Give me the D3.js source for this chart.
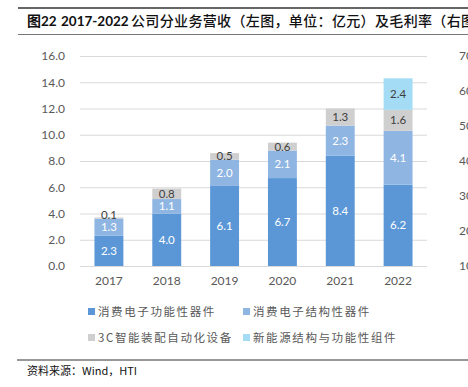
<!DOCTYPE html>
<html lang="zh">
<head>
<meta charset="UTF-8">
<title>2017-2022 公司分业务营收</title>
<script src="https://d3js.org/d3.v7.min.js"></script>
<style>
  body { margin: 0; background: #fff; }
  svg { display: block; }
  .tick text { font-family: Lato, "Noto Sans", sans-serif; }
</style>
</head>
<body>
<svg id="chart" width="468" height="387"></svg>
<script>
  const years = ["2017", "2018", "2019", "2020", "2021", "2022"];
  const seriesNames = ["消费电子功能性器件", "消费电子结构性器件", "3C智能装配自动化设备", "新能源结构与功能性组件"];
  const functional = [2.3, 4.0, 6.1, 6.7, 8.4, 6.2];
  const structural = [1.3, 1.1, 2.0, 2.1, 2.3, 4.1];
  const automation = [0.1, 0.8, 0.5, 0.6, 1.3, 1.6];
  const newEnergy = [0, 0, 0, 0, 0, 2.4];
  const leftTicks = [0, 2, 4, 6, 8, 10, 12, 14, 16];
  const rightTicks = [10, 20, 30, 40, 50, 60, 70];

  const colors = ["#5b97d6", "#8fb5e2", "#cfcfcf", "#a3dcf4"];
  const labelColors = ["#fff", "#fff", "#404040", "#404040"];
  const cjk = "'Noto Sans CJK SC', 'Noto Sans', sans-serif";

  const svg = d3.select("#chart");

  // header rules + title
  svg.append("line").attr("x1", 18).attr("x2", 468).attr("y1", 8).attr("y2", 8)
    .attr("stroke", "#333").attr("stroke-width", 1.5);
  svg.append("line").attr("x1", 18).attr("x2", 468).attr("y1", 34.5).attr("y2", 34.5)
    .attr("stroke", "#777").attr("stroke-width", 1);
  const title = svg.append("text").attr("x", 27).attr("y", 26)
    .attr("font-size", 14).attr("fill", "#111").attr("font-family", cjk);
  title.append("tspan").attr("font-weight", 700).text("图");
  title.append("tspan").attr("font-weight", 700)
    .attr("font-family", "Lato, sans-serif").attr("font-size", 13.5).text("22");
  title.append("tspan").attr("x", 61).attr("font-weight", 700)
    .attr("font-family", "Lato, sans-serif").attr("font-size", 13.5).text("2017-2022");
  title.append("tspan").attr("x", 131).attr("font-weight", 500).attr("letter-spacing", 0.35)
    .text("公司分业务营收（左图，单位：亿元）及毛利率（右图）");

  // scales
  const x = d3.scaleBand().domain(years).range([80, 427]).paddingInner(0.5).paddingOuter(0.25);
  const y = d3.scaleLinear().domain([0, 16]).range([266, 56]);
  const yR = d3.scaleLinear().domain([10, 70]).range([266, 56]);

  // gridlines
  svg.append("g").selectAll("line").data(leftTicks).join("line")
    .attr("x1", 80).attr("x2", 427)
    .attr("y1", d => y(d) + 0.5).attr("y2", d => y(d) + 0.5)
    .attr("stroke", "#d9d9d9").attr("stroke-width", 1);

  // left axis
  const yAxis = svg.append("g").attr("transform", "translate(70,0)")
    .call(d3.axisLeft(y).tickValues(leftTicks).tickFormat(d3.format(".1f")).tickSize(0).tickPadding(5));
  yAxis.select(".domain").remove();
  yAxis.selectAll("text").attr("font-size", 12).attr("fill", "#595959");

  // right axis (cut off by the page edge, as in the source)
  const yAxisR = svg.append("g").attr("transform", "translate(454,0)")
    .call(d3.axisRight(yR).tickValues(rightTicks).tickSize(0).tickPadding(5));
  yAxisR.select(".domain").remove();
  yAxisR.selectAll("text").attr("font-size", 12).attr("fill", "#595959");

  // x axis
  const xAxis = svg.append("g").attr("transform", "translate(0,266)")
    .call(d3.axisBottom(x).tickSize(0).tickPadding(10));
  xAxis.select(".domain").remove();
  xAxis.selectAll("text").attr("font-size", 12).attr("fill", "#595959");

  // stacked bars
  const rows = years.map((yr, i) => ({
    year: yr, s0: functional[i], s1: structural[i], s2: automation[i], s3: newEnergy[i]
  }));
  const stack = d3.stack().keys(["s0", "s1", "s2", "s3"])(rows);

  stack.forEach((layer, k) => {
    const g = svg.append("g");
    const segs = layer.filter(d => d.data["s" + k] > 0);
    g.selectAll("rect").data(segs).join("rect")
      .attr("x", d => x(d.data.year))
      .attr("width", x.bandwidth())
      .attr("y", d => y(d[1]))
      .attr("height", d => y(d[0]) - y(d[1]))
      .attr("fill", colors[k]);
    g.selectAll("text").data(segs).join("text")
      .attr("x", d => x(d.data.year) + x.bandwidth() / 2)
      .attr("y", d => (y(d[0]) + y(d[1])) / 2 - (d.data["s" + k] < 0.3 ? 3 : 0))
      .attr("dy", "0.35em")
      .attr("text-anchor", "middle")
      .attr("font-family", "Lato, 'Noto Sans', sans-serif")
      .attr("font-size", 11.5)
      .attr("fill", labelColors[k])
      .text(d => d3.format(".1f")(d.data["s" + k]));
  });

  // legend
  const legendPos = [[88, 312], [243, 312], [88, 338], [243, 338]];
  const lg = svg.append("g").selectAll("g").data(seriesNames).join("g")
    .attr("transform", (d, i) => `translate(${legendPos[i][0]},${legendPos[i][1]})`);
  lg.append("rect").attr("x", 0).attr("y", -4).attr("width", 7).attr("height", 7)
    .attr("fill", (d, i) => colors[i]);
  lg.append("text").attr("x", 10).attr("dy", "0.35em")
    .attr("font-size", 11.5).attr("letter-spacing", 1.6).attr("fill", "#595959")
    .attr("font-family", cjk).text(d => d);

  // footer
  svg.append("line").attr("x1", 17).attr("x2", 468).attr("y1", 360).attr("y2", 360)
    .attr("stroke", "#333").attr("stroke-width", 1.2);
  svg.append("text").attr("x", 27).attr("y", 375)
    .attr("font-size", 11).attr("fill", "#111").attr("font-family", cjk)
    .text("资料来源：Wind，HTI");
</script>
</body>
</html>
